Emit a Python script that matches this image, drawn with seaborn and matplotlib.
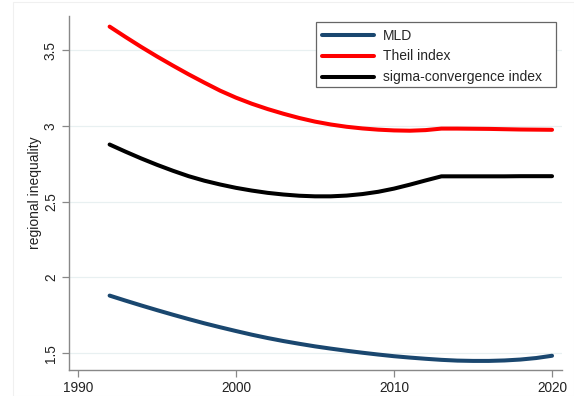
import numpy as np
import pandas as pd
import seaborn as sns
import matplotlib
matplotlib.use("Agg")
import matplotlib.pyplot as plt
from matplotlib.patches import Rectangle

years = list(range(1992, 2021))
mld = [1.880, 1.847, 1.815, 1.784, 1.754, 1.725, 1.697, 1.671, 1.646, 1.622,
       1.600, 1.580, 1.562, 1.545, 1.530, 1.516, 1.503, 1.491, 1.480, 1.471,
       1.463, 1.456, 1.451, 1.449, 1.449, 1.452, 1.458, 1.468, 1.483]
theil = [3.655, 3.587, 3.521, 3.458, 3.398, 3.340, 3.285, 3.232, 3.186, 3.146,
         3.111, 3.080, 3.052, 3.028, 3.009, 2.994, 2.983, 2.975, 2.970, 2.968,
         2.972, 2.982, 2.982, 2.981, 2.980, 2.978, 2.976, 2.975, 2.974]
sigma = [2.877, 2.830, 2.785, 2.743, 2.704, 2.668, 2.638, 2.613, 2.591, 2.573,
         2.558, 2.547, 2.539, 2.535, 2.535, 2.540, 2.550, 2.565, 2.586, 2.612,
         2.640, 2.667, 2.667, 2.667, 2.667, 2.667, 2.668, 2.668, 2.668]
series_names = ["MLD", "Theil index", "sigma-convergence index"]
colors = ["#1a476f", "#ff0000", "#000000"]
x_ticks = [1990, 2000, 2010, 2020]
y_ticks = [1.5, 2, 2.5, 3, 3.5]
y_tick_labels = ["1.5", "2", "2.5", "3", "3.5"]
y_label = "regional inequality"

df = pd.concat([
    pd.DataFrame({"year": years, "value": vals, "series": name})
    for name, vals in zip(series_names, [mld, theil, sigma])
])

sns.set_theme(style="white")
plt.rcParams["font.family"] = ["Liberation Sans", "DejaVu Sans"]

fig = plt.figure(figsize=(5.74, 3.96), dpi=100)
fig.patch.set_facecolor("white")
ax = fig.add_axes([69/574, 1-370/396, (562-69)/574, (370-16)/396])

sns.lineplot(data=df, x="year", y="value", hue="series", hue_order=series_names,
             palette=colors, linewidth=2.9, ax=ax, legend=True)

ax.set_xlim(1989.43, 2020.63)
ax.set_ylim(1.389, 3.725)
ax.set_xticks(x_ticks)
ax.set_xticklabels([str(t) for t in x_ticks], fontsize=9.8, color="#222222")
ax.set_yticks(y_ticks)
ax.set_yticklabels(y_tick_labels, fontsize=9.8, color="#222222", rotation=90, va="center")
ax.set_xlabel("")
ax.set_ylabel(y_label, fontsize=10, color="#222222", labelpad=1)
ax.grid(axis="y", color="#e8f0f1", linewidth=0.9)
ax.grid(axis="x", visible=False)
for s in ["top", "right"]:
    ax.spines[s].set_visible(False)
for s in ["left", "bottom"]:
    ax.spines[s].set_color("#888888")
    ax.spines[s].set_linewidth(1.0)
ax.tick_params(axis="both", direction="out", length=5, width=0.9, color="#888888",
               left=True, bottom=True, pad=3)

# legend frame (Stata-style box with asymmetric padding)
ax.add_patch(Rectangle((316/574, 1-87/396), (556-316)/574, (87-22)/396,
                       transform=fig.transFigure, facecolor="white",
                       edgecolor="#666666", linewidth=0.9, zorder=4.9,
                       clip_on=False))
handles, labels = ax.get_legend_handles_labels()
leg = ax.legend(handles, labels, loc="upper left", bbox_to_anchor=(316/574, 1-23/396),
                bbox_transform=fig.transFigure, fontsize=10, frameon=False,
                handlelength=3.8, handletextpad=0.6,
                borderaxespad=0, borderpad=0.4, labelspacing=0.5)
leg.set_zorder(5)
for line in leg.get_lines():
    line.set_linewidth(2.9)

fig.patches.append(Rectangle((13/574, 0), 1-13/574, 1-2/396, transform=fig.transFigure,
                             fill=False, edgecolor="#f0f0f0", linewidth=0.8))

fig.savefig("out.png", dpi=100)
